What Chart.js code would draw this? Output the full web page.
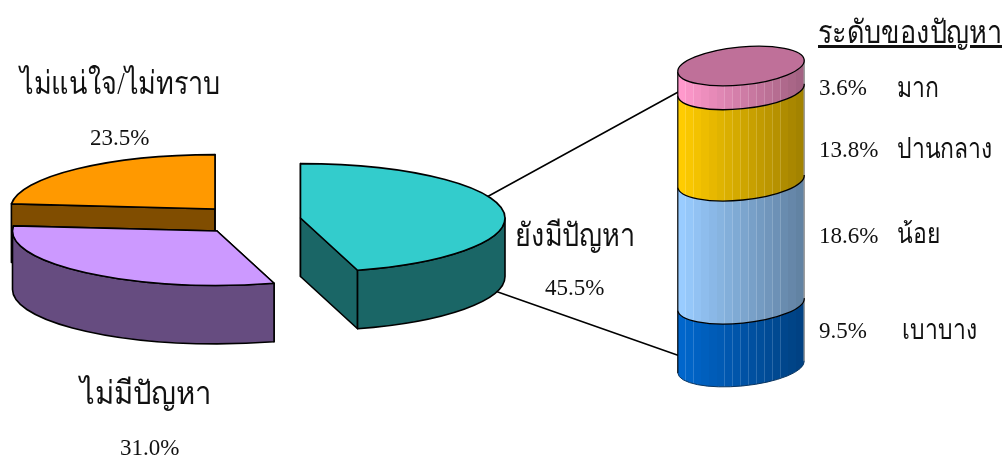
<!DOCTYPE html>
<html>
<head>
<meta charset="utf-8">
<script src="https://cdn.jsdelivr.net/npm/chart.js@4"></script>
<style>
html, body { margin: 0; padding: 0; background: #fff; }
#wrap { position: relative; width: 1008px; height: 455px; overflow: hidden; font-family: "Liberation Serif", "Noto Sans", serif; color: #111; }
canvas { position: absolute; left: 0; top: 0; }
.t { position: absolute; white-space: nowrap; line-height: 1; transform-origin: left center; }
.big { font-size: 32px; transform: scaleX(0.845); }
.num { font-size: 23px; }
.lvl { font-size: 28px; transform: scaleX(0.82); }
#pl1 { transform: scaleX(0.915); }
</style>
</head>
<body>
<div id="wrap">
  <canvas id="pie" width="1008" height="455"></canvas>
  <canvas id="bar" width="1008" height="455"></canvas>
  <span class="t big" id="pl0"></span><span class="t num" id="pv0"></span>
  <span class="t big" id="pl1"></span><span class="t num" id="pv1"></span>
  <span class="t big" id="pl2"></span><span class="t num" id="pv2"></span>
  <span class="t big" id="title"></span>
  <span class="t num" id="lv0"></span><span class="t lvl" id="ll0"></span>
  <span class="t num" id="lv1"></span><span class="t lvl" id="ll1"></span>
  <span class="t num" id="lv2"></span><span class="t lvl" id="ll2"></span>
  <span class="t num" id="lv3"></span><span class="t lvl" id="ll3"></span>
</div>
<script>
const pieLabels = ['ยังมีปัญหา', 'ไม่มีปัญหา', 'ไม่แน่ใจ/ไม่ทราบ'];
const pieValues = [45.5, 31.0, 23.5];
const levelTitle = 'ระดับของปัญหา';
const levelLabels = ['เบาบาง', 'น้อย', 'ปานกลาง', 'มาก'];
const levelValues = [9.5, 18.6, 13.8, 3.6];

const pieTop = ['#33CCCC', '#CC99FF', '#FF9900'];
const pieWall = ['#1A6666', '#664C80', '#804D00'];
const levelRgb = [[0, 102, 204], [153, 204, 255], [255, 204, 0], [255, 153, 204]];

// flattening of the pie and where each piece sits on the page
const SQUASH = 0.266;
const DEPTH = 58.5;
const pieCentres = [[300.5, 218], [217, 231], [215, 209]];
const wallOrder = [2, 1, 0];

function setText(id, text, x, y) {
    const el = document.getElementById(id);
    el.textContent = text;
    el.style.left = x + 'px';
    el.style.top = y + 'px';
    return el;
}

const pie3d = {
    id: 'pie3d',
    beforeDraw(chart) {
        // connector lines to the column, under everything else
        const ctx = chart.ctx;
        ctx.save();
        ctx.strokeStyle = '#000';
        ctx.lineWidth = 1.5;
        ctx.beginPath();
        ctx.moveTo(485, 198); ctx.lineTo(680, 91);
        ctx.moveTo(495, 291); ctx.lineTo(680, 356);
        ctx.stroke();
        ctx.restore();
    },
    afterDatasetsUpdate(chart) {
        chart.getDatasetMeta(0).data.forEach((arc, i) => {
            arc.x = pieCentres[i][0];
            arc.y = pieCentres[i][1] / SQUASH;
        });
    },
    beforeDatasetsDraw(chart) {
        const ctx = chart.ctx;
        const arcs = chart.getDatasetMeta(0).data;
        ctx.save();
        ctx.lineWidth = 1.6;
        ctx.strokeStyle = '#000';
        ctx.lineJoin = 'round';
        wallOrder.forEach(i => {
            const a = arcs[i], cx = a.x, cy = a.y * SQUASH, r = a.outerRadius, ry = r * SQUASH;
            ctx.fillStyle = pieWall[i];
            // flat cut faces
            [a.startAngle, a.endAngle].forEach(ang => {
                const px = cx + r * Math.cos(ang), py = cy + ry * Math.sin(ang);
                ctx.beginPath();
                ctx.moveTo(cx, cy); ctx.lineTo(px, py);
                ctx.lineTo(px, py + DEPTH); ctx.lineTo(cx, cy + DEPTH);
                ctx.closePath();
                ctx.fill(); ctx.stroke();
            });
            // rounded outside, front half only
            const from = Math.max(a.startAngle, 0), to = Math.min(a.endAngle, Math.PI);
            if (to > from) {
                ctx.beginPath();
                ctx.ellipse(cx, cy, r, ry, 0, from, to);
                ctx.ellipse(cx, cy + DEPTH, r, ry, 0, to, from, true);
                ctx.closePath();
                ctx.fill(); ctx.stroke();
            }
        });
        ctx.restore();
        ctx.save();
        ctx.scale(1, SQUASH);
    },
    afterDatasetsDraw(chart) {
        const ctx = chart.ctx;
        ctx.restore();
        ctx.save();
        ctx.lineWidth = 1.6;
        ctx.strokeStyle = '#000';
        ctx.lineJoin = 'round';
        chart.getDatasetMeta(0).data.forEach(a => {
            const cx = a.x, cy = a.y * SQUASH;
            ctx.beginPath();
            ctx.moveTo(cx, cy);
            ctx.ellipse(cx, cy, a.outerRadius, a.outerRadius * SQUASH, 0, a.startAngle, a.endAngle);
            ctx.closePath();
            ctx.stroke();
        });
        ctx.restore();
    }
};

new Chart(document.getElementById('pie'), {
    type: 'pie',
    data: { labels: pieLabels, datasets: [{ data: pieValues, backgroundColor: pieTop, borderWidth: 0 }] },
    options: {
        responsive: false,
        animation: false,
        radius: 204.5,
        plugins: { legend: { display: false }, tooltip: { enabled: false } }
    },
    plugins: [pie3d]
});

// column
const CAP_A = 63.5, CAP_B = 19, CAP_TILT = -5.5 * Math.PI / 180;
const CAP_COLOUR = '#BF7099';

function bandFill(ctx, x0, x1, rgb) {
    const g = ctx.createLinearGradient(x0, 0, x1, 0);
    const bands = 16;
    for (let i = 0; i < bands; i++) {
        const f = 1 - 0.36 * i / (bands - 1);
        const c = rgb.map(v => Math.round(v * f));
        const hi = rgb.map(v => Math.round(v * f + (255 - v * f) * 0.16));
        const a = i / bands, b = (i + 1) / bands, line = 0.006;
        g.addColorStop(a, `rgb(${c})`);
        g.addColorStop(b - line, `rgb(${c})`);
        g.addColorStop(b - line, `rgb(${hi})`);
        g.addColorStop(b, `rgb(${hi})`);
    }
    return g;
}

const column3d = {
    id: 'column3d',
    beforeDatasetsDraw(chart) {
        const ctx = chart.ctx;
        const xs = CAP_A * Math.cos(CAP_TILT), ys = CAP_A * Math.sin(CAP_TILT);
        ctx.save();
        chart.data.datasets.forEach((ds, i) => {
            const bar = chart.getDatasetMeta(i).data[0];
            const cx = bar.x, top = bar.y, bot = bar.base;
            ctx.beginPath();
            ctx.ellipse(cx, top, CAP_A, CAP_B, CAP_TILT, 0, Math.PI);
            ctx.ellipse(cx, bot, CAP_A, CAP_B, CAP_TILT, Math.PI, 0, true);
            ctx.closePath();
            ctx.fillStyle = bandFill(ctx, cx - xs, cx + xs, levelRgb[i]);
            ctx.fill();
            // side edges
            ctx.lineWidth = 1.2;
            ctx.strokeStyle = '#000';
            ctx.beginPath();
            ctx.moveTo(cx - xs, top - ys); ctx.lineTo(cx - xs, bot - ys);
            ctx.stroke();
            ctx.strokeStyle = '#8a8a8a';
            ctx.beginPath();
            ctx.moveTo(cx + xs, top + ys); ctx.lineTo(cx + xs, bot + ys);
            ctx.stroke();
            // lower rim, the very bottom one is softer
            ctx.strokeStyle = i === 0 ? '#0b3560' : '#000';
            ctx.lineWidth = i === 0 ? 1 : 1.3;
            ctx.beginPath();
            ctx.ellipse(cx, bot, CAP_A, CAP_B, CAP_TILT, 0, Math.PI);
            ctx.stroke();
        });
        const last = chart.getDatasetMeta(chart.data.datasets.length - 1).data[0];
        ctx.beginPath();
        ctx.ellipse(last.x, last.y, CAP_A, CAP_B, CAP_TILT, 0, Math.PI * 2);
        ctx.fillStyle = CAP_COLOUR;
        ctx.fill();
        ctx.strokeStyle = '#000';
        ctx.lineWidth = 1.3;
        ctx.stroke();
        ctx.restore();
        return false;
    }
};

new Chart(document.getElementById('bar'), {
    type: 'bar',
    data: {
        labels: ['ยังมีปัญหา'],
        datasets: levelLabels.map((l, i) => ({
            label: l,
            data: [levelValues[i]],
            backgroundColor: `rgb(${levelRgb[i]})`,
            barPercentage: 1,
            categoryPercentage: 1
        }))
    },
    options: {
        responsive: false,
        animation: false,
        layout: { padding: { left: 677.5, right: 203.5, top: 66, bottom: 88 } },
        scales: {
            x: { stacked: true, display: false },
            y: { stacked: true, display: false, min: 0, max: 45.5 }
        },
        plugins: { legend: { display: false }, tooltip: { enabled: false } }
    },
    plugins: [column3d]
});

// text
const fmt = v => v.toFixed(1) + '%';
setText('pl2', pieLabels[2], 20, 67);
setText('pv2', fmt(pieValues[2]), 90, 125.5);
setText('pl0', pieLabels[0], 515, 219);
setText('pv0', fmt(pieValues[0]), 545, 275.5);
setText('pl1', pieLabels[1], 80, 377);
setText('pv1', fmt(pieValues[1]), 120, 435.5);
setText('title', levelTitle, 818, 16).style.textDecoration = 'underline';
setText('lv3', fmt(levelValues[3]), 819, 75.5);
setText('ll3', levelLabels[3], 897, 74);
setText('lv2', fmt(levelValues[2]), 819, 137.5);
setText('ll2', levelLabels[2], 897, 135);
setText('lv1', fmt(levelValues[1]), 819, 223.5);
setText('ll1', levelLabels[1], 897, 220);
setText('lv0', fmt(levelValues[0]), 819, 318.5);
setText('ll0', levelLabels[0], 902, 316);
</script>
</body>
</html>
